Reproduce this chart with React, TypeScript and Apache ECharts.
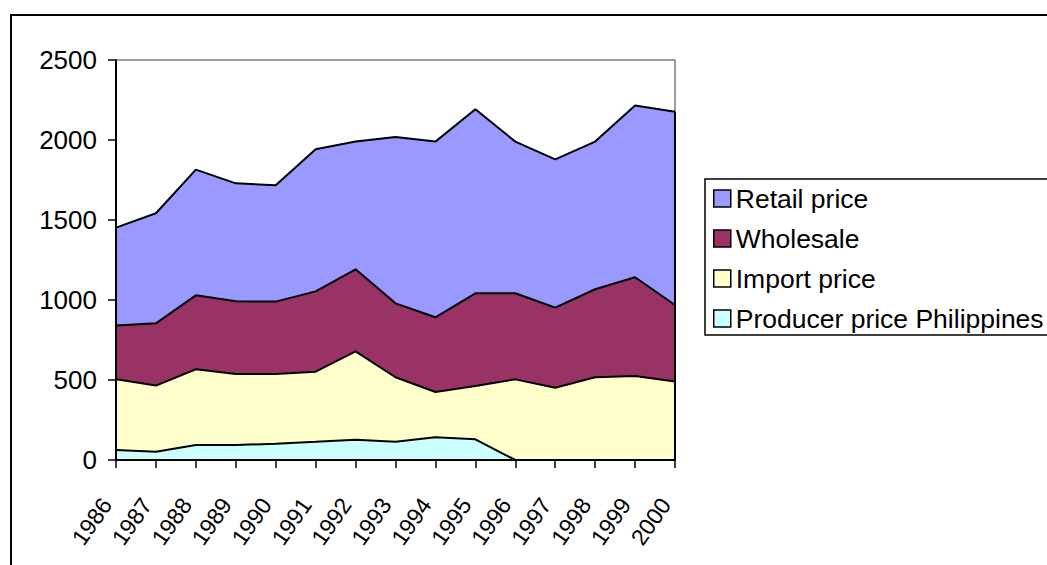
import React, { useEffect, useRef } from "react";
import * as echarts from "echarts";

const years = ["1986", "1987", "1988", "1989", "1990", "1991", "1992", "1993", "1994", "1995", "1996", "1997", "1998", "1999", "2000"];
const producer = [62, 52, 94, 94, 102, 114, 127, 114, 142, 129, 0, 0, 0, 0, 0];
const importPrice = [442, 413, 473, 443, 435, 438, 552, 403, 283, 333, 504, 452, 517, 525, 490];
const wholesale = [336, 389, 462, 455, 453, 502, 513, 462, 467, 580, 538, 500, 550, 617, 479];
const retail = [612, 688, 786, 737, 727, 888, 798, 1040, 1098, 1150, 948, 927, 923, 1073, 1208];
const yTicks = { min: 0, max: 2500, interval: 500 };

const FONT = "'Liberation Sans', Arial, sans-serif";

const seriesDefs = [
  { name: "Producer price Philippines", data: producer, color: "#CCFFFF" },
  { name: "Import price", data: importPrice, color: "#FFFFCC" },
  { name: "Wholesale", data: wholesale, color: "#993366" },
  { name: "Retail price", data: retail, color: "#9999FF" },
];

export default function App() {
  const ref = useRef<HTMLDivElement>(null);
  useEffect(() => {
    if (!ref.current) return;
    const chart = echarts.init(ref.current, null, { renderer: "svg" });
    const last = years.length - 1;
    const lastTotal = seriesDefs.reduce((s, d) => s + d.data[last], 0);
    const series = seriesDefs.map((d, i) => ({
      name: d.name,
      type: "line",
      stack: "total",
      data: d.data,
      symbol: "none",
      showSymbol: false,
      itemStyle: { color: d.color },
      lineStyle: { color: "#000", width: 2 },
      areaStyle: { color: d.color, opacity: 1 },
      emphasis: { disabled: true },
      z: 2,
      markLine:
        i === seriesDefs.length - 1
          ? {
              silent: true,
              symbol: "none",
              label: { show: false },
              lineStyle: { color: "#000", width: 2, type: "solid" },
              data: [[{ coord: [years[last], 0] }, { coord: [years[last], lastTotal] }]],
            }
          : undefined,
    }));
    chart.setOption({
      animation: false,
      textStyle: { fontFamily: FONT, color: "#000" },
      grid: {
        left: 116,
        right: 372,
        top: 60,
        bottom: 105,
        show: true,
        borderColor: "#808080",
        borderWidth: 1.5,
        backgroundColor: "transparent",
        containLabel: false,
        outerBoundsMode: "none",
      },
      legend: {
        orient: "vertical",
        left: 713,
        top: 185,
        padding: 0,
        itemWidth: 17,
        itemHeight: 17,
        itemGap: 13,
        selectedMode: false,
        textStyle: { fontFamily: FONT, fontSize: 26.5, color: "#000" },
        data: [...seriesDefs].reverse().map((d) => ({
          name: d.name,
          icon: "rect",
          itemStyle: { color: d.color, borderColor: "#000", borderWidth: 1.5 },
        })),
      },
      xAxis: {
        type: "category",
        data: years,
        boundaryGap: false,
        z: 10,
        axisLine: { lineStyle: { color: "#000", width: 2 } },
        axisTick: { show: true, length: 8, inside: false, lineStyle: { color: "#000", width: 1.5 } },
        axisLabel: {
          rotate: 55,
          fontSize: 23,
          color: "#000",
          fontFamily: FONT,
          margin: 47,
          align: "right",
          verticalAlign: "bottom",
          interval: 0,
        },
        splitLine: { show: false },
      },
      yAxis: {
        type: "value",
        min: yTicks.min,
        max: yTicks.max,
        interval: yTicks.interval,
        z: 10,
        axisLine: { show: true, lineStyle: { color: "#000", width: 2 } },
        axisTick: { show: true, length: 8, inside: false, lineStyle: { color: "#000", width: 1.5 } },
        axisLabel: {
          fontSize: 26,
          color: "#000",
          fontFamily: FONT,
          margin: 19,
          formatter: (v: number) => String(v),
        },
        splitLine: { show: false },
      },
      graphic: [
        {
          type: "rect",
          shape: { x: 11, y: 15, width: 1100, height: 600 },
          style: { fill: "none", stroke: "#000", lineWidth: 2 },
          silent: true,
          z: -1,
        },
        {
          type: "rect",
          shape: { x: 705, y: 179, width: 400, height: 156 },
          style: { fill: "none", stroke: "#000", lineWidth: 1.5 },
          silent: true,
        },
      ],
      series,
    });
    return () => chart.dispose();
  }, []);
  return (
    <div
      ref={ref}
      style={{ position: "fixed", left: 0, top: 0, width: 1047, height: 565, background: "#fff" }}
    />
  );
}
